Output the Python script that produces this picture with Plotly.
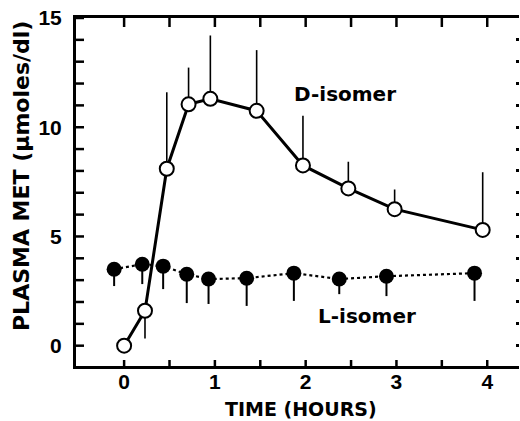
import plotly.graph_objects as go

# D-isomer (open circles)
d_time = [0.0, 0.23, 0.47, 0.71, 0.95, 1.46, 1.97, 2.47, 2.98, 3.95]
d_met = [0.0, 1.6, 8.1, 11.05, 11.3, 10.75, 8.25, 7.2, 6.25, 5.3]
d_err_up = [0, 0, 3.5, 1.68, 2.9, 2.78, 2.27, 1.22, 0.9, 2.64]
d_err_down = [0, 1.27, 0, 0, 0, 0, 0, 0, 0, 0]

# L-isomer (filled circles)
l_time = [-0.11, 0.2, 0.43, 0.69, 0.93, 1.35, 1.87, 2.37, 2.89, 3.86]
l_met = [3.5, 3.73, 3.64, 3.27, 3.05, 3.09, 3.32, 3.05, 3.18, 3.32]
l_err_up = [0, 0, 0, 0, 0, 0, 0, 0, 0, 0]
l_err_down = [0.77, 0.91, 1.05, 1.32, 1.14, 1.27, 1.27, 0.69, 0.91, 1.27]

x_label_vals = [0, 1, 2, 3, 4]
x_label_text = ["0", "1", "2", "3", "4"]
x_tick_vals = [0, 0.5, 1, 1.5, 2, 2.5, 3, 3.5, 4]
y_label_vals = [0, 5, 10, 15]
y_label_text = ["0", "5", "10", "15"]
y_tick_vals = list(range(0, 16))
right_tick_vals = list(range(0, 15))

x_title = "TIME (HOURS)"
y_title = "PLASMA MET (µmoles/dl)"
d_label = "D-isomer"
l_label = "L-isomer"

X_RANGE = [-0.53, 4.35]
Y_RANGE = [-0.93, 15.0]
PLOT_W = 443
PLOT_H = 348

fig = go.Figure()

fig.add_trace(go.Scatter(
    x=l_time, y=l_met, mode="lines+markers",
    line=dict(color="black", width=2.2, dash="dot"),
    marker=dict(symbol="circle", size=15, color="black"),
    error_y=dict(type="data", symmetric=False, array=l_err_up, arrayminus=l_err_down,
                 color="black", thickness=2, width=0),
    showlegend=False,
))

fig.add_trace(go.Scatter(
    x=d_time, y=d_met, mode="lines+markers",
    line=dict(color="black", width=3),
    marker=dict(symbol="circle", size=14, color="white", line=dict(color="black", width=2)),
    error_y=dict(type="data", symmetric=False, array=d_err_up, arrayminus=d_err_down,
                 color="black", thickness=1.6, width=0),
    showlegend=False,
))

# empty trace so that the right-hand tick-only axis is drawn
fig.add_trace(go.Scatter(x=[None], y=[None], yaxis="y2", showlegend=False,
                         hoverinfo="skip", mode="markers"))

# inward tick marks along the frame, placed through the axis scales
tick_line = dict(color="black", width=2.5)
for v in x_tick_vals:
    fig.add_shape(type="line", xref="x", yref="paper", x0=v, x1=v,
                  y0=0, y1=6 / PLOT_H, line=tick_line, layer="above")
    fig.add_shape(type="line", xref="x", yref="paper", x0=v, x1=v,
                  y0=1, y1=1 - 9 / PLOT_H, line=tick_line, layer="above")
for v in y_tick_vals:
    fig.add_shape(type="line", xref="paper", yref="y", x0=0, x1=8 / PLOT_W,
                  y0=v, y1=v, line=tick_line, layer="above")

tick_font = dict(family="Liberation Sans", size=21, color="black", weight="bold")
title_font = dict(family="DejaVu Sans", size=20, color="black", weight="bold")

fig.update_layout(
    width=520, height=421,
    margin=dict(l=76, r=1, t=18, b=55),
    paper_bgcolor="white", plot_bgcolor="white",
    xaxis=dict(
        range=X_RANGE, tickmode="array", tickvals=x_label_vals, ticktext=x_label_text,
        ticks="", showline=True, linewidth=3, linecolor="#000000", mirror=True,
        showgrid=False, zeroline=False, tickfont=tick_font, ticklabelstandoff=-5,
    ),
    yaxis=dict(
        range=Y_RANGE, tickmode="array", tickvals=y_label_vals, ticktext=y_label_text,
        ticks="", showline=True, linewidth=3, linecolor="#000000", mirror=False,
        showgrid=False, zeroline=False, tickfont=tick_font, ticklabelstandoff=7,
    ),
    yaxis2=dict(
        overlaying="y", anchor="x", side="right", range=Y_RANGE, tickmode="array",
        tickvals=right_tick_vals, ticks="inside", ticklen=3, tickwidth=2.5,
        tickcolor="#000000", showticklabels=False, showline=False,
        showgrid=False, zeroline=False,
    ),
    annotations=[
        dict(text=d_label, x=2.435, y=11.5, xref="x", yref="y", showarrow=False,
             font=title_font, xanchor="center", yanchor="middle"),
        dict(text=l_label, x=2.68, y=1.35, xref="x", yref="y", showarrow=False,
             font=title_font, xanchor="center", yanchor="middle"),
        dict(text=x_title, x=(301 - 76) / PLOT_W, y=(366 - 409) / PLOT_H, xref="paper", yref="paper",
             showarrow=False, font=dict(family="DejaVu Sans", size=19, color="black", weight="bold"),
             xanchor="center", yanchor="middle"),
        dict(text=y_title, x=(22 - 76) / PLOT_W, y=(366 - 176) / PLOT_H, xref="paper", yref="paper",
             showarrow=False, font=dict(family="DejaVu Sans", size=22, color="black", weight="bold"),
             textangle=-90, xanchor="center", yanchor="middle"),
    ],
)

fig.write_html("out.html")
